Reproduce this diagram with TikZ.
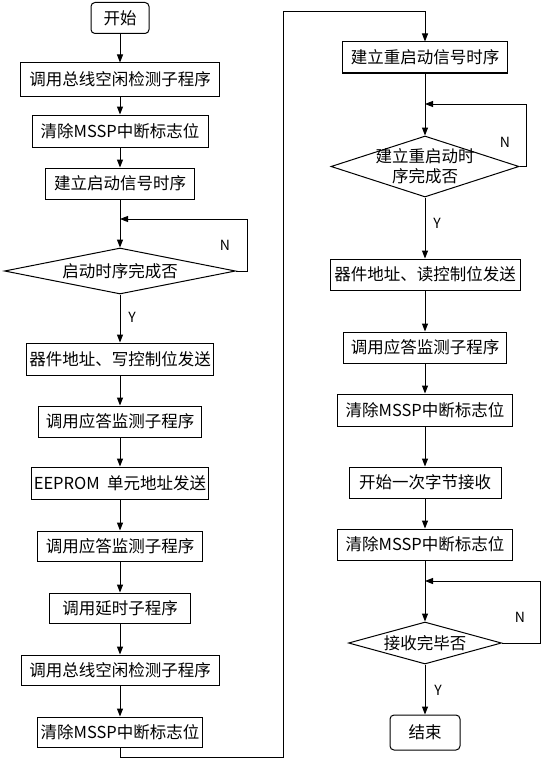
\documentclass[tikz,border=0pt]{standalone}
\usepackage{fontspec}
\setmainfont{Noto Sans CJK SC}
\usetikzlibrary{shapes.geometric}
\usetikzlibrary{arrows.meta}
\usetikzlibrary{positioning}
\usetikzlibrary{calc}
\tikzset{
	procbox/.style={draw, line width=1pt, rectangle, inner sep=0pt, font=\fontsize{16.5}{19}\selectfont},
	termbox/.style={procbox, rounded corners=4pt},
	decision/.style={draw, line width=1pt, diamond, inner sep=0pt, label={[font=\fontsize{16.5}{20}\selectfont, align=center]center:#1}},
	flow/.style={line width=1pt, -{Triangle[length=8pt, width=6pt]}},
	yn/.style={font=\fontsize{14}{16}\selectfont}
}

\begin{document}
\begin{tikzpicture}[x=1pt, y=-1pt]
	\useasboundingbox[fill=white] (0,0) rectangle (544,760);

	% left column
	\node[termbox, minimum width=58, minimum height=31] (start) at (120,18) {开始};
	\node[procbox, minimum width=199, minimum height=33] (busL) at (120,79.5) {调用总线空闲检测子程序};
	\node[procbox, minimum width=176, minimum height=32] (clrA) at (120,131) {清除MSSP中断标志位};
	\node[procbox, minimum width=149, minimum height=31] (startSeq) at (120,183.5) {建立启动信号时序};
	\node[decision={启动时序完成否}, minimum width=231, minimum height=46] (startOk) at (120,271) {};
	\node[procbox, minimum width=187, minimum height=32] (addrW) at (120,359) {器件地址、写控制位发送};
	\node[procbox, minimum width=163, minimum height=31] (ackA) at (120,421.5) {调用应答监测子程序};
	\node[procbox, minimum width=177, minimum height=32] (cellAddr) at (120,483) {EEPROM\ \ 单元地址发送};
	\node[procbox, minimum width=165, minimum height=30] (ackB) at (120,546) {调用应答监测子程序};
	\node[procbox, minimum width=141, minimum height=30] (delay) at (120,608) {调用延时子程序};
	\node[procbox, minimum width=198, minimum height=30] (busR) at (120,670) {调用总线空闲检测子程序};
	\node[procbox, minimum width=165, minimum height=30] (clrB) at (120,732) {清除MSSP中断标志位};

	% right column
	\node[procbox, minimum width=165, minimum height=31] (restart) at (425,57.5) {建立重启动信号时序};
	\node[decision={建立重启动时\\序完成否}, minimum width=188, minimum height=61] (restartOk) at (425,166.5) {};
	\node[procbox, minimum width=190, minimum height=31] (addrR) at (425,274.5) {器件地址、读控制位发送};
	\node[procbox, minimum width=163, minimum height=31] (ackC) at (425,347.5) {调用应答监测子程序};
	\node[procbox, minimum width=175, minimum height=32] (clrC) at (425,410) {清除MSSP中断标志位};
	\node[procbox, minimum width=152, minimum height=31] (recv) at (425,482.5) {开始一次字节接收};
	\node[procbox, minimum width=175, minimum height=31] (clrD) at (425,544.5) {清除MSSP中断标志位};
	\node[decision={接收完毕否}, minimum width=153, minimum height=42] (recvOk) at (425,643) {};
	\node[termbox, minimum width=70, minimum height=35] (finish) at (425,732.5) {结束};

	% loop corners
	\coordinate (loopA) at (247,219);
	\coordinate (loopB) at (526,104);
	\coordinate (loopC) at (540,581);
	\coordinate (crossB) at (283,757);
	\coordinate (crossT) at (283,12);

	% Y / N
	\node[yn] (nA) at (225,245) {N};
	\node[yn] (yA) at (132,317) {Y};
	\node[yn] (nB) at (505,142) {N};
	\node[yn] (yB) at (437,223) {Y};
	\node[yn] (nC) at (520,617) {N};
	\node[yn] (yC) at (438,690) {Y};

	% left arrows
	\draw[flow] (start) -- (busL);
	\draw[flow] (busL) -- (clrA);
	\draw[flow] (clrA) -- (startSeq);
	\draw[flow] (startSeq) -- (startOk);
	\draw[flow] (startOk.east) -| (loopA) -- (loopA -| startOk.north);
	\draw[flow] (startOk) -- (addrW);
	\draw[flow] (addrW) -- (ackA);
	\draw[flow] (ackA) -- (cellAddr);
	\draw[flow] (cellAddr) -- (ackB);
	\draw[flow] (ackB) -- (delay);
	\draw[flow] (delay) -- (busR);
	\draw[flow] (busR) -- (clrB);

	% over to the right
	\draw[flow] (clrB.south) |- (crossB) -- (crossT) -| (restart.north);

	% right arrows
	\draw[flow] (restart) -- (restartOk);
	\draw[flow] (restartOk.east) -| (loopB) -- (loopB -| restartOk.north);
	\draw[flow] (restartOk) -- (addrR);
	\draw[flow] (addrR) -- (ackC);
	\draw[flow] (ackC) -- (clrC);
	\draw[flow] (clrC) -- (recv);
	\draw[flow] (recv) -- (clrD);
	\draw[flow] (clrD) -- (recvOk);
	\draw[flow] (recvOk.east) -| (loopC) -- (loopC -| recvOk.north);
	\draw[flow] (recvOk) -- (finish);
\end{tikzpicture}
\end{document}
